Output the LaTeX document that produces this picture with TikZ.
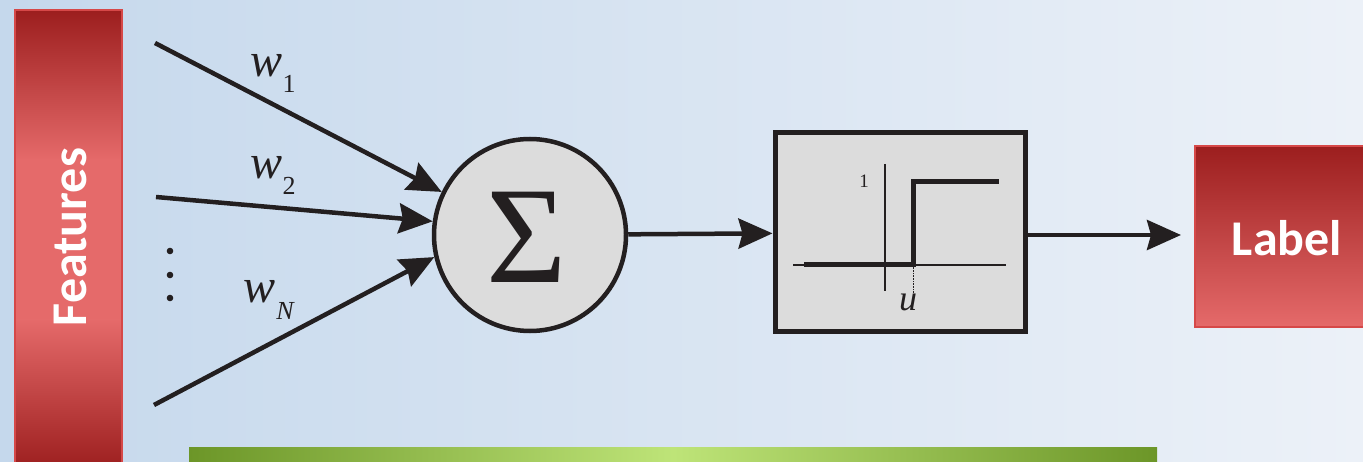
\documentclass[tikz,border=0pt]{standalone}
\usepackage{fontspec}
\setmainfont{Liberation Serif}
\newfontfamily\labfont{Carlito}
\usetikzlibrary{arrows.meta}
\definecolor{bgA}{RGB}{197,216,236}
\definecolor{bgB}{RGB}{236,241,248}
\definecolor{redD}{RGB}{156,30,30}
\definecolor{redL}{RGB}{229,106,106}
\definecolor{redE}{RGB}{214,72,72}
\definecolor{grD}{RGB}{108,150,40}
\definecolor{grL}{RGB}{190,228,120}
\definecolor{boxgray}{RGB}{220,220,220}
\definecolor{ink}{RGB}{35,31,32}
\tikzset{
  conn/.style={line width=4.5pt, draw=ink, -{Stealth[length=34pt,width=30pt,inset=4pt]}},
  wlab/.style={font=\fontsize{48}{50}\selectfont\itshape, text=ink, inner sep=0pt},
  bigtxt/.style={font=\labfont\bfseries\fontsize{50}{60}\selectfont, text=white},
}
\begin{document}
\begin{tikzpicture}[x=1pt,y=-1pt]
\useasboundingbox (0,0) rectangle (1363,462);
% background
\shade[left color=bgA, right color=bgB] (0,0) rectangle (1363,462);
% features bar
\shade[top color=redD, bottom color=redL] (15,10) rectangle (122,160);
\fill[redL] (15,159) rectangle (122,321);
\shade[top color=redL, bottom color=redD] (15,320) rectangle (122,470);
\draw[redE, line width=1.2pt] (15,470) -- (15,10) -- (122,10) -- (122,470);
\node[bigtxt, rotate=90] (feat) at (70,237) {Features};
% label box
\shade[top color=redD, bottom color=redL] (1195,146) rectangle (1370,327);
\draw[redE, line width=1.2pt] (1370,146) -- (1195,146) -- (1195,327) -- (1370,327);
\node[bigtxt] (lab) at (1287,238) {Label};
% green bar
\shade[left color=grD, right color=grD, middle color=grL] (189,447) rectangle (1157,470);
% summation circle
\node[circle, draw=ink, line width=4.5pt, fill=boxgray, minimum size=192pt, inner sep=0pt] (sum) at (530,235) {};
\node[font=\fontsize{138}{138}\selectfont, text=ink, inner sep=0pt] (sig) at (527,237) {Σ};
% inputs
\coordinate (s1) at (155,43);
\coordinate (s2) at (156,197);
\coordinate (s3) at (154,405);
\draw[conn] (s1) -- (sum.154);
\draw[conn] (s2) -- (sum.172);
\draw[conn] (s3) -- (sum.193);
\node[wlab] (w1) at (267,66) {w};
\node[font=\fontsize{26}{28}\selectfont, text=ink, inner sep=0pt] (w1s) at (289,84) {1};
\node[wlab] (w2) at (267,168) {w};
\node[font=\fontsize{26}{28}\selectfont, text=ink, inner sep=0pt] (w2s) at (289,186) {2};
\node[wlab] (wN) at (260,292) {w};
\node[font=\fontsize{26}{28}\selectfont\itshape, text=ink, inner sep=0pt] (wNs) at (285,311) {N};
% dots
\foreach \yy/\nm in {251/d1,275/d2,298/d3}
  \fill[ink] (170,\yy) circle (3.3pt);
% threshold box
\node[draw=ink, line width=5pt, fill=boxgray, minimum width=250pt, minimum height=199pt, inner sep=0pt] (thr) at (900,232.5) {};
\draw[ink, line width=1.3pt] (793,265) -- (1006,265);
\draw[ink, line width=1.3pt] (885,164) -- (885,291);
\draw[ink, line width=0.6pt, densely dotted] (913,265) -- (913,293);
\draw[ink, line width=5pt] (804,265) -- (913,265) -- (913,182) -- (999,182);
\node[font=\fontsize{19}{20}\selectfont, text=ink] (one) at (864,181) {1};
\node[font=\fontsize{36}{36}\selectfont\itshape, text=ink] (u) at (908,302) {u};
% connectors
\draw[conn] (sum) -- (thr);
\coordinate (outend) at (1181,235);
\draw[conn] (thr.east |- sum) -- (outend);
\end{tikzpicture}
\end{document}
